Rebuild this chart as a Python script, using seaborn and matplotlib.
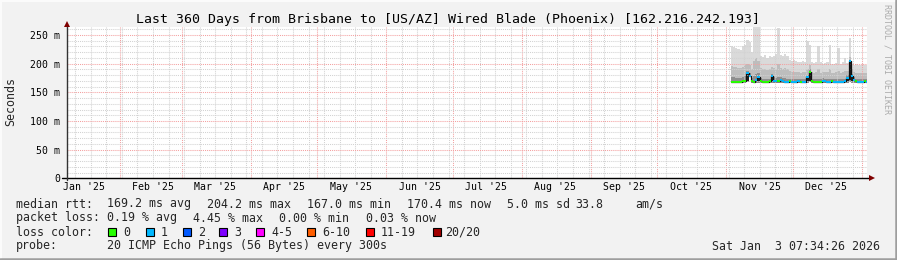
import numpy as np
import pandas as pd
import matplotlib
matplotlib.use("Agg")
import matplotlib.pyplot as plt
import matplotlib.dates as mdates
from matplotlib.patches import Rectangle
from matplotlib.lines import Line2D
import seaborn as sns

# ---------------- data (daily, starting 2025-11-03) ----------------
first_day = "2025-11-03"
median_ms = [168.5, 168.0, 168.0, 168.5, 168.0, 169.0, 170.0, 183.0, 179.0, 169.0,
             168.5, 172.0, 177.0, 169.0, 168.0, 168.0, 168.0, 169.0, 178.0, 170.0,
             169.0, 170.0, 172.0, 169.0, 168.0, 168.5, 169.0, 168.0, 168.0, 168.5,
             169.0, 168.0, 168.0, 168.5, 176.0, 186.0, 169.0, 168.0, 168.0, 168.5,
             168.0, 170.0, 169.0, 168.0, 168.5, 169.0, 168.0, 168.0, 168.5, 168.0,
             168.0, 169.0, 175.0, 204.0, 178.0, 171.0, 169.0, 168.5, 168.0, 168.0,
             169.0, 168.0]
min_ms = [166.5, 166.6, 166.5, 166.7, 166.5, 166.6, 166.8, 167.5, 176.0, 166.8,
          166.5, 166.7, 167.0, 166.6, 166.5, 166.5, 166.6, 166.7, 167.0, 166.8,
          166.7, 166.6, 166.9, 166.7, 166.5, 166.6, 166.7, 166.5, 166.5, 166.6,
          166.7, 166.5, 166.6, 166.6, 167.0, 167.5, 166.7, 166.5, 166.6, 166.6,
          166.5, 166.8, 166.7, 166.5, 166.6, 166.7, 166.5, 166.6, 166.6, 166.5,
          166.5, 166.7, 167.0, 168.0, 167.0, 166.8, 166.7, 166.6, 166.5, 166.5,
          166.7, 166.5]
dark_ms = [176, 176, 175, 175, 175, 176, 178, 188, 184, 175,
           178, 182, 184, 175, 174, 174, 173, 174, 182, 176,
           175, 177, 177, 175, 175, 174, 174, 173, 173, 173,
           174, 173, 173, 173, 180, 190, 174, 173, 173, 174,
           173, 175, 174, 173, 174, 174, 173, 173, 174, 173,
           173, 174, 180, 207, 182, 176, 174, 173, 173, 173,
           174, 173]
mid_ms = [196, 195, 194, 193, 192, 195, 197, 200, 198, 190,
          205, 210, 205, 192, 190, 191, 189, 190, 195, 192,
          191, 200, 193, 191, 192, 190, 187, 186, 186, 185,
          185, 184, 186, 185, 190, 198, 185, 184, 185, 190,
          184, 185, 186, 185, 190, 184, 184, 185, 188, 184,
          185, 187, 188, 212, 190, 185, 184, 183, 184, 184,
          183, 184]
max_ms = [231, 229, 227, 226, 224, 230, 233, 241, 238, 221,
          264, 264, 264, 214, 212, 215, 210, 213, 211, 214,
          216, 262, 215, 214, 216, 213, 207, 205, 206, 204,
          203, 202, 205, 203, 240, 232, 203, 201, 203, 230,
          202, 200, 201, 203, 232, 200, 199, 201, 228, 200,
          203, 210, 201, 244, 200, 198, 199, 197, 198, 199,
          197, 198]
loss_idx = [0, 0, 0, 0, 0, 0, 0, 1, 1, 0,
            0, 1, 1, 0, 0, 0, 0, 0, 1, 1,
            1, 0, 1, 1, 1, 1, 0, 1, 1, 1,
            1, 0, 1, 1, 1, 0, 0, 0, 0, 0,
            0, 1, 1, 1, 1, 0, 1, 1, 1, 1,
            1, 1, 1, 1, 1, 1, 0, 1, 1, 1,
            0, 1]

loss_labels = ["0", "1", "2", "3", "4-5", "6-10", "11-19", "20/20"]
loss_colors = ["#26ff00", "#00b8ff", "#0059ff", "#7e00ff",
               "#ff00ff", "#ff5e00", "#ff0000", "#a10000"]

y_ticks_ms = [0, 50, 100, 150, 200, 250]
y_tick_labels = ["0", "50 m", "100 m", "150 m", "200 m", "250 m"]
month_labels = ["Jan '25", "Feb '25", "Mar '25", "Apr '25", "May '25", "Jun '25",
                "Jul '25", "Aug '25", "Sep '25", "Oct '25", "Nov '25", "Dec '25"]

title = "Last 360 Days from Brisbane to [US/AZ] Wired Blade (Phoenix) [162.216.242.193]"
stats_rtt = [("median rtt:", 16), ("169.2 ms avg", 107), ("204.2 ms max", 207),
             ("167.0 ms min", 307), ("170.4 ms now", 407), ("5.0 ms sd", 507),
             ("33.8", 575), ("am/s", 635)]
stats_loss = [("packet loss:", 16), ("0.19 % avg", 107), ("4.45 % max", 193),
              ("0.00 % min", 279), ("0.03 % now", 366)]
probe_text = "20 ICMP Echo Pings (56 Bytes) every 300s"
stamp_text = "Sat Jan  3 07:34:26 2026"

# ---------------- style ----------------
sns.set_theme(style="white")
plt.rcParams["font.family"] = ["DejaVu Sans Mono", "DejaVu Sans"]

W, H = 897, 260
fig = plt.figure(figsize=(W / 100, H / 100), dpi=100, facecolor="#f2f2f2")

px_l, px_r, px_t, px_b = 67, 867, 27, 178.3
ax = fig.add_axes([px_l / W, 1 - px_b / H, (px_r - px_l) / W, (px_b - px_t) / H])
ax.set_facecolor("white")

end_time = pd.Timestamp("2026-01-03 07:34:26")
start_time = end_time - pd.Timedelta(days=360)
ax.set_xlim(mdates.date2num(start_time), mdates.date2num(end_time))
ax.set_ylim(0, 263.9)

days = pd.date_range(first_day, periods=len(median_ms), freq="D")
x = mdates.date2num(list(days) + [end_time])

def ext(a):
    a = np.asarray(a, dtype=float)
    return np.append(a, a[-1])

# smoke
ax.fill_between(x, ext(min_ms), ext(dark_ms), step="post", color="#8e8e8e", lw=0, zorder=1)
ax.fill_between(x, ext(dark_ms), ext(mid_ms), step="post", color="#bdbdbd", lw=0, zorder=1)
ax.fill_between(x, ext(mid_ms), ext(max_ms), step="post", color="#dadada", lw=0, zorder=1)

# dark spike columns
for i, m in enumerate(median_ms):
    if m > 173:
        ax.fill_between([x[i], x[i + 1]], [min_ms[i] + 3] * 2, [m, m],
                        color="#1c1c1c", lw=0, zorder=2)

# median (black step base) + loss-colored segments
sns.lineplot(x=x, y=ext(median_ms), drawstyle="steps-post", color="#111111",
             lw=0.9, ax=ax, zorder=3, estimator=None, sort=False)
ax.hlines(median_ms, x[:-1], x[1:], colors=[loss_colors[k] for k in loss_idx],
          lw=1.4, zorder=4)

# grid
month_starts = mdates.date2num(pd.date_range("2025-02-01", "2026-01-01", freq="MS"))
weeks = mdates.date2num(pd.date_range("2025-01-12", "2026-01-03", freq="7D"))
ax.set_xticks(month_starts)
ax.set_xticks(weeks, minor=True)
ax.set_xticklabels([])
ax.set_yticks(y_ticks_ms, y_tick_labels)
ax.set_yticks(np.arange(0, 264, 10), minor=True)
ax.set_axisbelow(False)
ax.grid(which="major", color="#f4a0a0", ls=(0, (1, 1)), lw=0.75)
ax.grid(which="minor", color="#d2d2d2", ls=(0, (1, 1)), lw=0.75)
ax.tick_params(axis="x", which="both", length=0)
ax.tick_params(axis="y", which="major", length=3, width=0.7, color="#666666",
               direction="out", pad=1.8, labelsize=7.1, labelcolor="black")
ax.tick_params(axis="y", which="minor", length=1.5, width=0.6, color="#aaaaaa",
               direction="out")
for s in ax.spines.values():
    s.set_visible(False)

# month labels (mid-month)
lab_pos = mdates.date2num(pd.date_range("2025-01-01", "2025-12-01", freq="MS")
                          + pd.Timedelta(days=15))
for p, lab in zip(lab_pos, month_labels):
    ax.text(p, -9 / (px_b - px_t), lab, transform=ax.get_xaxis_transform(),
            ha="center", va="center", fontsize=7.1, color="black")

# axes lines + arrows
hpx = px_b - px_t
wpx = px_r - px_l
ax.plot([-5 / wpx, 2 / wpx + 1], [0, 0], transform=ax.transAxes, color="black",
        lw=1.0, clip_on=False, zorder=6)
ax.plot([0, 0], [-2 / hpx, 1 + 1 / hpx], transform=ax.transAxes, color="#333333",
        lw=1.0, clip_on=False, zorder=6)
ax.plot([0], [1 + 3.3 / hpx], marker="^", ms=4.2, color="#7f0000",
        transform=ax.transAxes, clip_on=False, zorder=7, mew=0)
ax.plot([1 + 4.5 / wpx], [0], marker=">", ms=4.2, color="#7f0000",
        transform=ax.transAxes, clip_on=False, zorder=7, mew=0)

# ---------------- texts ----------------
def ftext(px, py, s, **kw):
    fig.text(px / W, 1 - py / H, s, **kw)

ftext(447.5, 19, title, ha="center", va="center", fontsize=9.55, color="black")
ftext(11, 102, "Seconds", ha="center", va="center", rotation=90, fontsize=8.35)
ftext(887, 59, "RRDTOOL / TOBI OETIKER", ha="center", va="center", rotation=270,
      fontsize=6.0, color="#ababab")

fs = 8.35
for s, px in stats_rtt:
    ftext(px, 204, s, ha="left", va="center", fontsize=fs)
for s, px in stats_loss:
    ftext(px, 218, s, ha="left", va="center", fontsize=fs)
ftext(16, 232, "loss color:", ha="left", va="center", fontsize=fs)
box_x = [108, 146, 183, 219, 256, 307, 366, 433]
lab_x = [123, 161, 198, 234, 271, 322, 381, 445]
for bx, lx, lab, col in zip(box_x, lab_x, loss_labels, loss_colors):
    fig.patches.append(Rectangle((bx / W, 1 - 236 / H), 8 / W, 8 / H,
                                 transform=fig.transFigure, facecolor=col,
                                 edgecolor="black", lw=0.8))
    ftext(lx, 232, lab, ha="left", va="center", fontsize=fs)
ftext(16, 246, "probe:", ha="left", va="center", fontsize=fs)
ftext(107, 246, probe_text, ha="left", va="center", fontsize=fs)
ftext(880, 246, stamp_text, ha="right", va="center", fontsize=fs)

# 3D frame
fig.add_artist(Line2D([0, 1], [1 - 0.5 / H, 1 - 0.5 / H], transform=fig.transFigure,
                      color="#fcfcfc", lw=1.4))
fig.add_artist(Line2D([0.5 / W, 0.5 / W], [0, 1], transform=fig.transFigure,
                      color="#fcfcfc", lw=1.4))
fig.add_artist(Line2D([0, 1], [1.2 / H, 1.2 / H], transform=fig.transFigure,
                      color="#9e9e9e", lw=1.8))
fig.add_artist(Line2D([1 - 1.2 / W, 1 - 1.2 / W], [0, 1], transform=fig.transFigure,
                      color="#9e9e9e", lw=1.8))

fig.savefig("out.png", dpi=100, facecolor=fig.get_facecolor())
